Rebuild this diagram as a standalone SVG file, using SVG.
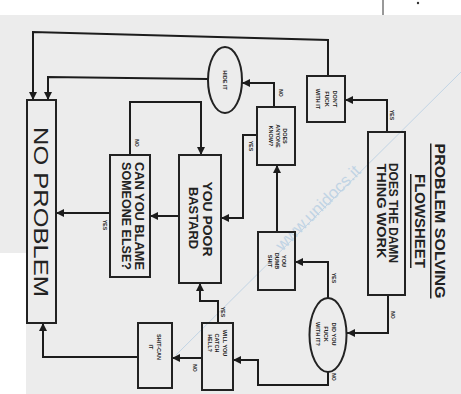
<svg xmlns="http://www.w3.org/2000/svg" width="461" height="394" viewBox="0 0 461 394">
<defs>
<marker id="ah" viewBox="0 0 10 10" refX="10" refY="5" markerWidth="8" markerHeight="8" markerUnits="userSpaceOnUse" orient="auto">
<path d="M0,0 L10,5 L0,10 z" fill="#1c1c1c"/>
</marker>
<style>
.box{fill:none;stroke:#222;stroke-width:2}
.ln{fill:none;stroke:#1c1c1c;stroke-width:2;stroke-linejoin:miter}
.t{font-family:"Liberation Sans",Arial,sans-serif;fill:#222;text-anchor:middle;dominant-baseline:central}
.big{font-size:20px}
.mid{font-size:12px;font-weight:bold}
.sm{font-size:5.5px;font-weight:bold}
.lb{font-size:5px;font-weight:bold}
.ttl{font-size:15px;font-weight:bold;text-decoration:underline}
</style>
</defs>
<rect x="0" y="0" width="461" height="394" fill="#ececec"/>
<rect x="0" y="0" width="461" height="15" fill="#ffffff"/>
<rect x="0" y="253" width="26" height="141" fill="#ffffff"/>
<line x1="383" y1="0" x2="383" y2="15" stroke="#333" stroke-width="1"/>
<circle cx="418" cy="3" r="1.2" fill="#333"/>
<g id="watermark" opacity="0.45">
<line x1="461" y1="72" x2="176" y2="355" stroke="#8fb8dc" stroke-width="1"/>
<text x="318" y="208" transform="rotate(-45 318 208)" style="font-family:'Liberation Sans',Arial,sans-serif;font-size:17px;fill:#8fb8dc;text-anchor:middle;dominant-baseline:central">www.unidocs.it</text>
</g>
<g id="title">
<text class="t ttl" transform="translate(440,221) rotate(90)" textLength="155" lengthAdjust="spacingAndGlyphs">PROBLEM SOLVING</text>
<text class="t ttl" transform="translate(420,221) rotate(90)" textLength="94" lengthAdjust="spacingAndGlyphs">FLOWSHEET</text>
</g>
<g id="connectors">
<path class="ln" d="M328,76 L328,40 L33,32 L33,100" marker-end="url(#ah)"/>
<path class="ln" d="M208,79 L48,77 L48,100" marker-end="url(#ah)"/>
<path class="ln" d="M274,107 L274,83 L242,83" marker-end="url(#ah)"/>
<path class="ln" d="M387,132 L387,100 L345,100" marker-end="url(#ah)"/>
<path class="ln" d="M388,295 L388,333 L347,333" marker-end="url(#ah)"/>
<path class="ln" d="M328,298 L328,262 L295,262" marker-end="url(#ah)"/>
<path class="ln" d="M277,232 L277,165" marker-end="url(#ah)"/>
<path class="ln" d="M257,135 L243,135 L243,218 L221,218" marker-end="url(#ah)"/>
<path class="ln" d="M179,216 L150,216" marker-end="url(#ah)"/>
<path class="ln" d="M110,213 L56,213" marker-end="url(#ah)"/>
<path class="ln" d="M130,155 L130,102 L201,102 L201,155" marker-end="url(#ah)"/>
<path class="ln" d="M328,372 L328,385 L258,385 L258,360 L233,360" marker-end="url(#ah)"/>
<path class="ln" d="M218,323 L218,301 L200,301 L200,283" marker-end="url(#ah)"/>
<path class="ln" d="M202,358 L172,358" marker-end="url(#ah)"/>
<path class="ln" d="M138,357 L43,357 L43,323" marker-end="url(#ah)"/>
<text class="t lb" transform="translate(392,115) rotate(90)">YES</text>
<text class="t lb" transform="translate(393,315) rotate(90)">NO</text>
<text class="t lb" transform="translate(281,93) rotate(90)">NO</text>
<text class="t lb" transform="translate(251,146) rotate(90)">YES</text>
<text class="t lb" transform="translate(334,278) rotate(90)">YES</text>
<text class="t lb" transform="translate(334,377) rotate(90)">NO</text>
<text class="t lb" transform="translate(223,312) rotate(90)">YES</text>
<text class="t lb" transform="translate(195,368) rotate(90)">NO</text>
<text class="t lb" transform="translate(105,225) rotate(90)">YES</text>
<text class="t lb" transform="translate(137,143) rotate(90)">NO</text>
</g>
<g id="works">
<rect class="box" x="368" y="132" width="37" height="163"/>
<text class="t mid" transform="translate(393,213) rotate(90)" textLength="100" lengthAdjust="spacingAndGlyphs">DOES THE DAMN</text>
<text class="t mid" transform="translate(381,211) rotate(90)" textLength="95" lengthAdjust="spacingAndGlyphs">THING WORK</text>
</g>
<g id="dontfuck">
<rect class="box" x="307" y="76" width="38" height="46"/>
<text class="t sm" transform="translate(335,99) rotate(90)">DON'T</text>
<text class="t sm" transform="translate(327,99) rotate(90)">FUCK</text>
<text class="t sm" transform="translate(318,99) rotate(90)">WITH IT</text>
</g>
<g id="hideit">
<ellipse class="box" cx="225" cy="80" rx="17" ry="33"/>
<text class="t sm" transform="translate(225,80) rotate(90)">HIDE IT</text>
</g>
<g id="anyone">
<rect class="box" x="257" y="107" width="38" height="58"/>
<text class="t sm" transform="translate(285,136) rotate(90)">DOES</text>
<text class="t sm" transform="translate(278,136) rotate(90)">ANYONE</text>
<text class="t sm" transform="translate(271,136) rotate(90)">KNOW?</text>
</g>
<g id="dumbshit">
<rect class="box" x="258" y="232" width="37" height="58"/>
<text class="t sm" transform="translate(284,261) rotate(90)">YOU</text>
<text class="t sm" transform="translate(277,261) rotate(90)">DUMB</text>
<text class="t sm" transform="translate(270,261) rotate(90)">SHIT</text>
</g>
<g id="didyou">
<ellipse class="box" cx="328" cy="335" rx="18.5" ry="37"/>
<text class="t sm" transform="translate(334,334) rotate(90)">DID YOU</text>
<text class="t sm" transform="translate(326,334) rotate(90)">FUCK</text>
<text class="t sm" transform="translate(318,334) rotate(90)">WITH IT?</text>
</g>
<g id="catchhell">
<rect class="box" x="202" y="323" width="31" height="67"/>
<text class="t sm" transform="translate(225,343) rotate(90)">WILL YOU</text>
<text class="t sm" transform="translate(217,343) rotate(90)">CATCH</text>
<text class="t sm" transform="translate(210,343) rotate(90)">HELL?</text>
</g>
<g id="shitcan">
<rect class="box" x="138" y="323" width="34" height="65"/>
<text class="t sm" transform="translate(159,347) rotate(90)">SHIT-CAN</text>
<text class="t sm" transform="translate(151,347) rotate(90)">IT</text>
</g>
<g id="poorbastard">
<rect class="box" x="179" y="155" width="42" height="128"/>
<text class="t mid" transform="translate(207,219) rotate(90)" textLength="75" lengthAdjust="spacingAndGlyphs">YOU POOR</text>
<text class="t mid" transform="translate(193,218) rotate(90)" textLength="62" lengthAdjust="spacingAndGlyphs">BASTARD</text>
</g>
<g id="blame">
<rect class="box" x="110" y="155" width="40" height="122"/>
<text class="t mid" transform="translate(139,216) rotate(90)" textLength="108" lengthAdjust="spacingAndGlyphs">CAN YOU BLAME</text>
<text class="t mid" transform="translate(126,216) rotate(90)" textLength="108" lengthAdjust="spacingAndGlyphs">SOMEONE ELSE?</text>
</g>
<g id="noproblem">
<rect class="box" x="27" y="100" width="29" height="223"/>
<text class="t big" transform="translate(41,212) rotate(90)" textLength="170" lengthAdjust="spacingAndGlyphs">NO PROBLEM</text>
</g>
</svg>
